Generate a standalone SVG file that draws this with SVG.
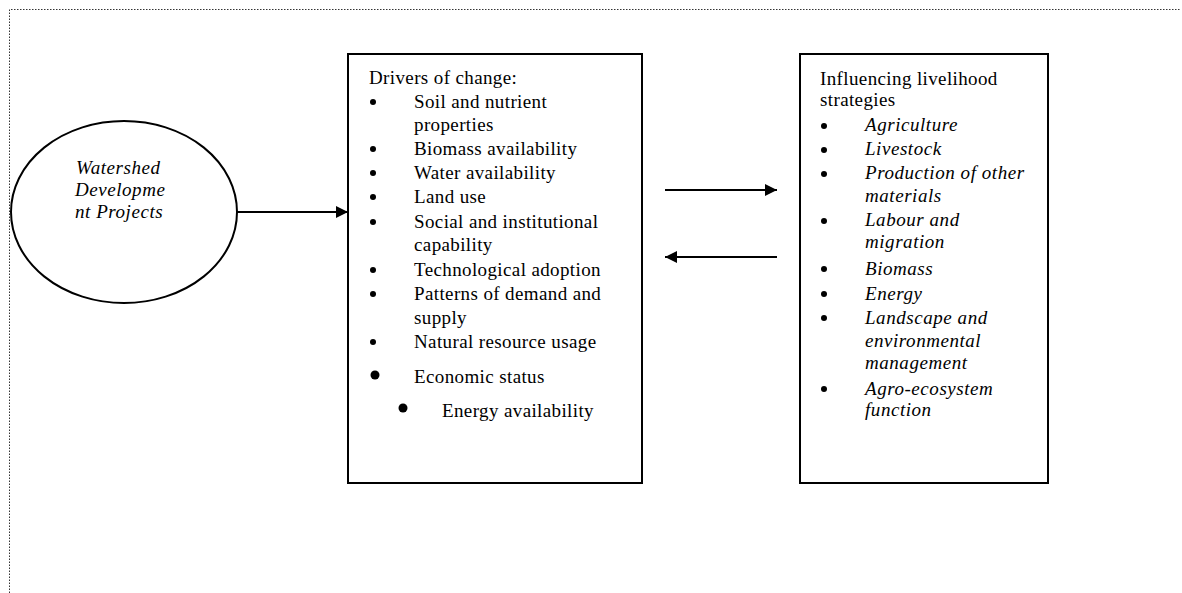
<svg xmlns="http://www.w3.org/2000/svg" width="1182" height="593" viewBox="0 0 1182 593">
<style>
.t{font-family:"Liberation Serif","Times New Roman",serif;font-size:19px;fill:#000;letter-spacing:0.38px}
.i{font-style:italic;letter-spacing:0.55px}
.box{fill:#fff;stroke:#000;stroke-width:2}
.frame{fill:none;stroke:#333;stroke-width:1;stroke-dasharray:1.5 1.5}
.con{stroke:#000;stroke-width:2;fill:none}
</style>
<defs>
<marker id="ah" viewBox="0 0 12 12" refX="12" refY="6" markerWidth="12" markerHeight="12" markerUnits="userSpaceOnUse" orient="auto">
<path d="M0,0 L12,6 L0,12 Z" fill="#000"/>
</marker>
</defs>
<rect width="1182" height="593" fill="#fff"/>
<path class="frame" d="M9.5,593 L9.5,9.5 L1180,9.5"/>
<g id="watershed">
<ellipse cx="124" cy="212" rx="113" ry="91" fill="#fff" stroke="#000" stroke-width="2"/>
<text class="t i" x="76" y="174">Watershed</text>
<text class="t i" x="75" y="196">Developme</text>
<text class="t i" x="75" y="218">nt Projects</text>
</g>
<g id="drivers">
<rect class="box" x="348" y="54" width="294" height="429"/>
<text class="t" x="369" y="84">Drivers of change:</text>
<g fill="#000">
<circle cx="373" cy="102" r="3"/>
<circle cx="373" cy="149" r="3"/>
<circle cx="373" cy="173" r="3"/>
<circle cx="373" cy="197" r="3"/>
<circle cx="373" cy="222" r="3"/>
<circle cx="373" cy="270" r="3"/>
<circle cx="373" cy="294" r="3"/>
<circle cx="373" cy="342" r="3"/>
<circle cx="375" cy="375" r="4.5"/>
<circle cx="403" cy="408" r="4.5"/>
</g>
<text class="t" x="414" y="108">Soil and nutrient</text>
<text class="t" x="414" y="131">properties</text>
<text class="t" x="414" y="155">Biomass availability</text>
<text class="t" x="414" y="179">Water availability</text>
<text class="t" x="414" y="203">Land use</text>
<text class="t" x="414" y="228">Social and institutional</text>
<text class="t" x="414" y="251">capability</text>
<text class="t" x="414" y="276">Technological adoption</text>
<text class="t" x="414" y="300">Patterns of demand and</text>
<text class="t" x="414" y="324">supply</text>
<text class="t" x="414" y="348">Natural resource usage</text>
<text class="t" x="414" y="383">Economic status</text>
<text class="t" x="442" y="417">Energy availability</text>
</g>
<g id="livelihood">
<rect class="box" x="800" y="54" width="248" height="429"/>
<text class="t" x="820" y="85">Influencing livelihood</text>
<text class="t" x="820" y="106">strategies</text>
<g fill="#000">
<circle cx="824" cy="126" r="3"/>
<circle cx="824" cy="150" r="3"/>
<circle cx="824" cy="174" r="3"/>
<circle cx="824" cy="221" r="3"/>
<circle cx="824" cy="269" r="3"/>
<circle cx="824" cy="294" r="3"/>
<circle cx="824" cy="318" r="3"/>
<circle cx="824" cy="389" r="3"/>
</g>
<text class="t i" x="865" y="131">Agriculture</text>
<text class="t i" x="865" y="155">Livestock</text>
<text class="t i" x="865" y="179">Production of other</text>
<text class="t i" x="865" y="202">materials</text>
<text class="t i" x="865" y="226">Labour and</text>
<text class="t i" x="865" y="248">migration</text>
<text class="t i" x="865" y="275">Biomass</text>
<text class="t i" x="865" y="300">Energy</text>
<text class="t i" x="865" y="324">Landscape and</text>
<text class="t i" x="865" y="347">environmental</text>
<text class="t i" x="865" y="369">management</text>
<text class="t i" x="865" y="395">Agro-ecosystem</text>
<text class="t i" x="865" y="416">function</text>
</g>
<g id="connectors">
<line class="con" x1="237" y1="212" x2="348" y2="212" marker-end="url(#ah)"/>
<line class="con" x1="665" y1="190" x2="777" y2="190" marker-end="url(#ah)"/>
<line class="con" x1="777" y1="257" x2="665" y2="257" marker-end="url(#ah)"/>
</g>
</svg>
